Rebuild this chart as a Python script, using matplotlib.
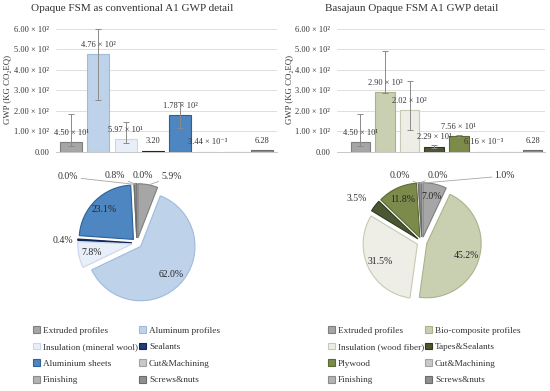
import matplotlib.pyplot as plt
import numpy as np
from matplotlib.patches import Patch

plt.rcParams['font.family'] = ['Liberation Serif', 'DejaVu Serif']

# ---- data -------------------------------------------------------------
left_cats = ['Extruded profiles', 'Aluminum profiles', 'Insulation (mineral wool)', 'Sealants',
             'Aluminium sheets', 'Cut&Machining', 'Finishing', 'Screws&nuts']
left_vals = [45.0, 476.0, 59.7, 3.20, 178.0, 0.00344, 0.0, 6.28]
left_err_lo = [29.0, 253.0, 41.0, None, 117.0, None, None, None]
left_err_hi = [183.0, 600.0, 147.0, None, 241.0, None, None, None]
left_pct = [5.9, 62.0, 7.8, 0.4, 23.1, 0.0, 0.0, 0.8]

right_cats = ['Extruded profiles', 'Bio-composite profiles', 'Insulation (wood fiber)', 'Tapes&Sealants',
              'Plywood', 'Cut&Machining', 'Finishing', 'Screws&nuts']
right_vals = [45.0, 290.0, 202.0, 22.9, 75.6, 0.00616, 0.0, 6.28]
right_err_lo = [29.0, 285.0, 106.0, 20.0, 70.0, None, None, None]
right_err_hi = [183.0, 494.0, 346.0, 31.0, 82.0, None, None, None]
right_pct = [7.0, 45.2, 31.5, 3.5, 11.8, 0.0, 0.0, 1.0]

left_fill = ['#a6a6a6', '#bed3e9', '#e8eff8', '#1f3b78', '#4d86c0', '#c9c9c9', '#b3b3b3', '#8f8f8f']
left_edge = ['#7f7f7f', '#9dbbdc', '#c8d7ea', '#10265a', '#2f5f97', '#a3a3a3', '#8c8c8c', '#6b6b6b']
right_fill = ['#a6a6a6', '#c9d0b2', '#eeeee6', '#4b5632', '#7c8a4c', '#c9c9c9', '#b3b3b3', '#8f8f8f']
right_edge = ['#7f7f7f', '#a9b38b', '#c6cab3', '#2e3a1b', '#5b6a30', '#a3a3a3', '#8c8c8c', '#6b6b6b']

# outside pie labels: index -> (x, y, leader line)
left_out = {0: (0.62, 1.18, True), 5: (-1.23, 1.18, True), 7: (-0.39, 1.2, True),
            6: (0.11, 1.2, True), 3: (-1.32, 0.04, False)}
right_out = {3: (-1.16, 0.77, False), 5: (-0.39, 1.18, True), 6: (0.29, 1.18, True),
             7: (1.48, 1.18, True)}

SUP = str.maketrans('-0123456789', '⁻⁰¹²³⁴⁵⁶⁷⁸⁹')
TXT = '#333333'


def sci(v):
    if v == 0:
        return '0.00'
    if 1 <= v < 10:
        return '%.2f' % v
    e = int(np.floor(np.log10(v)))
    return '%.2f × 10%s' % (v / 10 ** e, str(e).translate(SUP))


def bar_panel(rect, xlim, vals, lo, hi, fill, edge):
    ax = fig.add_axes(rect)
    x = np.arange(len(vals))
    ax.bar(x, vals, width=0.8, color=fill, edgecolor=edge, linewidth=0.8, zorder=2)
    for i, v in enumerate(vals):
        if lo[i] is not None:
            ax.errorbar(x[i], v, yerr=[[v - lo[i]], [hi[i] - v]], fmt='none',
                        ecolor='#8a8a8a', elinewidth=0.7, capsize=2, capthick=0.7, zorder=3)
        if v > 0:
            ax.annotate(sci(v), (x[i], v), xytext=(0, 7), textcoords='offset points',
                        ha='center', va='center', fontsize=6, color=TXT, zorder=4)
    ax.set_xlim(*xlim)
    ax.set_ylim(0, 600)
    ax.set_yticks(np.arange(0, 601, 100))
    ax.set_yticklabels([sci(t) for t in np.arange(0, 601, 100)], fontsize=6, color=TXT)
    ax.set_xticks([])
    ax.tick_params(axis='y', length=0, pad=5)
    ax.grid(axis='y', color='#d9d9d9', linewidth=0.6, zorder=0)
    for s in ['top', 'right', 'left']:
        ax.spines[s].set_visible(False)
    ax.spines['bottom'].set_color('#bfbfbf')
    ax.spines['bottom'].set_linewidth(0.6)
    return ax


def pie_panel(rect, pct, fill, edge, out):
    ax = fig.add_axes(rect)
    wedges, _ = ax.pie(pct, startangle=90, counterclock=False, colors=fill,
                       explode=[0.09] * len(pct), radius=0.97,
                       wedgeprops=dict(linewidth=0.8))
    for w, ec in zip(wedges, edge):
        w.set_edgecolor(ec)
    for i, w in enumerate(wedges):
        th = np.deg2rad((w.theta1 + w.theta2) / 2)
        txt = '%.1f%%' % pct[i]
        if i in out:
            tx, ty, lead = out[i]
            px, py = 1.05 * np.cos(th), 1.05 * np.sin(th)
            if lead:
                ax.annotate(txt, (px, py), xytext=(tx, ty), ha='center', va='center',
                            fontsize=7, color=TXT,
                            arrowprops=dict(arrowstyle='-', color='#a6a6a6', lw=0.6,
                                            shrinkA=0, shrinkB=0))
            else:
                ax.text(tx, ty, txt, ha='center', va='center', fontsize=7, color=TXT)
        else:
            r = 0.83
            ax.text(r * np.cos(th), r * np.sin(th), txt, ha='center', va='center',
                    fontsize=7, color='#262626')
    ax.set_xlim(-1.25, 1.25)
    ax.set_ylim(-1.25, 1.25)
    ax.set_aspect('equal')
    ax.axis('off')
    return ax


def legend(anchor, cats, fill, edge):
    handles = [Patch(facecolor=f, edgecolor=e, linewidth=0.8, label=c)
               for c, f, e in zip(cats, fill, edge)]
    order = [0, 2, 4, 6, 1, 3, 5, 7]
    fig.legend([handles[i] for i in order], [cats[i] for i in order], ncol=2,
               loc='upper left', bbox_to_anchor=anchor, frameon=False, fontsize=6.7,
               handlelength=0.75, handleheight=0.75, handletextpad=0.3, columnspacing=0.15,
               labelspacing=0.85, borderpad=0, borderaxespad=0, labelcolor=TXT)


fig = plt.figure(figsize=(5.5, 3.91), dpi=100)

fig.text(0.24, 0.978, 'Opaque FSM as conventional A1 GWP detail', ha='center', va='center',
         fontsize=8, color=TXT)
fig.text(0.749, 0.978, 'Basajaun Opaque FSM A1 GWP detail', ha='center', va='center',
         fontsize=8, color=TXT)

bar_panel([0.1018, 0.612, 0.402, 0.314], (-0.55, 7.55), left_vals, left_err_lo, left_err_hi,
          left_fill, left_edge)
bar_panel([0.6127, 0.612, 0.378, 0.314], (-0.95, 7.5), right_vals, right_err_lo, right_err_hi,
          right_fill, right_edge)
fig.text(0.014, 0.77, 'GWP (KG CO₂EQ)', rotation=90, ha='center', va='center',
         fontsize=6.3, color=TXT)
fig.text(0.528, 0.77, 'GWP (KG CO₂EQ)', rotation=90, ha='center', va='center',
         fontsize=6.3, color=TXT)

pie_panel([0.1218, 0.1995, 0.2545, 0.358], left_pct, left_fill, left_edge, left_out)
pie_panel([0.64, 0.202, 0.2545, 0.358], right_pct, right_fill, right_edge, right_out)

legend((0.06, 0.166), left_cats, left_fill, left_edge)
legend((0.596, 0.166), right_cats, right_fill, right_edge)

fig.savefig('out.png', dpi=100)
